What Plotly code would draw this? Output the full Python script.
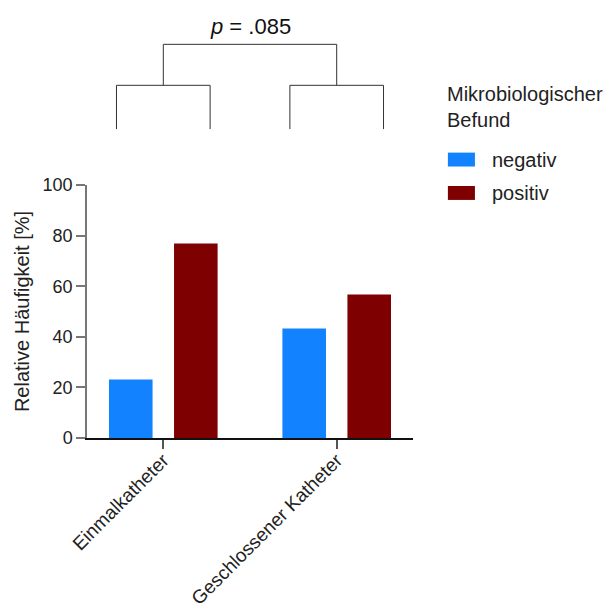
import plotly.graph_objects as go

categories = ["Einmalkatheter", "Geschlossener Katheter"]
series_names = ["negativ", "positiv"]
negativ = [23.1, 43.3]
positiv = [76.9, 56.7]
colors = ["#1282ff", "#7f0000"]
y_ticks = [0, 20, 40, 60, 80, 100]
p_label = "<i>p</i> = .085"
legend_title = "Mikrobiologischer<br>Befund"

FONT = "Arial, Liberation Sans, Helvetica, sans-serif"
XR = [-0.44, 1.44]

fig = go.Figure()
for name, vals, col in zip(series_names, [negativ, positiv], colors):
    fig.add_trace(go.Bar(x=list(range(len(categories))), y=vals, name=name,
                         marker=dict(color=col, line=dict(width=0)),
                         showlegend=False))

def px(v):
    return (v - XR[0]) / (XR[1] - XR[0])

shapes = []
line = dict(color="#333333", width=1)
y_low, y_mid, y_top = 1.221, 1.394, 1.556
half = 0.27
for i in range(len(categories)):
    x0, x1 = px(i - half), px(i + half)
    shapes.append(dict(type="line", xref="paper", yref="paper", x0=x0, x1=x0, y0=y_low, y1=y_mid, line=line))
    shapes.append(dict(type="line", xref="paper", yref="paper", x0=x1, x1=x1, y0=y_low, y1=y_mid, line=line))
    shapes.append(dict(type="line", xref="paper", yref="paper", x0=x0, x1=x1, y0=y_mid, y1=y_mid, line=line))
    shapes.append(dict(type="line", xref="paper", yref="paper", x0=px(i), x1=px(i), y0=y_mid, y1=y_top, line=line))
shapes.append(dict(type="line", xref="paper", yref="paper", x0=px(0), x1=px(1), y0=y_top, y1=y_top, line=line))

# manual legend swatches
sw = [(1.073, 1.128), (0.941, 0.996)]
for (y0, y1), col in zip(sw, colors):
    shapes.append(dict(type="rect", xref="paper", yref="paper", x0=1.107, x1=1.190,
                       y0=y0, y1=y1, fillcolor=col, line=dict(width=0)))

annotations = [
    dict(text=p_label, xref="paper", yref="paper", x=px(0.5), y=1.628, showarrow=False,
         xanchor="center", yanchor="middle", font=dict(size=22, color="#111111", family=FONT)),
    dict(text=legend_title, xref="paper", yref="paper", x=1.098, y=1.41, showarrow=False,
         xanchor="left", yanchor="top", align="left",
         font=dict(size=20, color="#222222", family=FONT)),
]
for (y0, y1), name in zip(sw, series_names):
    annotations.append(dict(text=name, xref="paper", yref="paper", x=1.236, y=(y0 + y1) / 2,
                            showarrow=False, xanchor="left", yanchor="middle",
                            font=dict(size=20, color="#222222", family=FONT)))

fig.update_layout(
    width=609, height=605,
    margin=dict(l=87, r=196, t=185, b=167),
    plot_bgcolor="white", paper_bgcolor="white",
    barmode="group", bargap=0.25, bargroupgap=0.33,
    font=dict(family=FONT, size=18, color="#222222"),
    shapes=shapes, annotations=annotations,
    xaxis=dict(range=XR, tickmode="array", tickvals=list(range(len(categories))),
               ticktext=categories, tickangle=-45, showgrid=False, zeroline=False,
               automargin=False, ticklabelstandoff=-7,
               showline=True, linecolor="#111111", linewidth=1.5,
               ticks="outside", ticklen=9, tickcolor="#555555", tickwidth=1.5,
               tickfont=dict(size=19, family=FONT, color="#222222")),
    yaxis=dict(range=[0, 100], tickmode="array", tickvals=y_ticks,
               showgrid=False, zeroline=False, automargin=True,
               showline=True, linecolor="#777777", linewidth=1.5,
               ticks="outside", ticklen=9, tickcolor="#777777", tickwidth=1.5,
               tickfont=dict(size=18, family=FONT, color="#222222"),
               title=dict(text="Relative Häufigkeit [%]", standoff=8,
                          font=dict(size=20, family=FONT, color="#222222"))),
)

fig.write_html("out.html", config={"displayModeBar": False},
               post_script="document.body.style.margin='0';document.body.style.overflow='hidden';")
